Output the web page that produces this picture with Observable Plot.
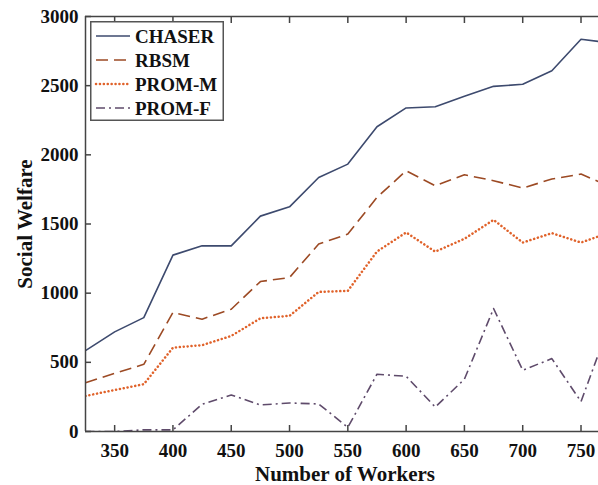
<!DOCTYPE html>
<html>
<head>
<meta charset="utf-8">
<script src="https://cdn.jsdelivr.net/npm/d3@7"></script>
<script src="https://cdn.jsdelivr.net/npm/@observablehq/plot@0.6"></script>
<style>
  html, body { margin: 0; padding: 0; background: #fff; }
  #chart { position: relative; width: 598px; height: 485px; }
  #legend { position: absolute; left: 90px; top: 21px; }
</style>
</head>
<body>
<div id="chart"></div>
<script>
const workers = [325, 350, 375, 400, 425, 450, 475, 500, 525, 550, 575, 600, 625, 650, 675, 700, 725, 750, 775];
const chaser  = [585, 720, 823, 1275, 1342, 1342, 1557, 1624, 1836, 1933, 2203, 2339, 2348, 2423, 2495, 2510, 2608, 2835, 2810];
const rbsm    = [353, 420, 486, 860, 812, 884, 1084, 1113, 1355, 1427, 1692, 1885, 1776, 1856, 1813, 1760, 1825, 1861, 1770];
const promM   = [257, 300, 342, 606, 624, 691, 818, 836, 1009, 1017, 1301, 1439, 1300, 1393, 1530, 1366, 1434, 1366, 1440];
const promF   = [0, 0, 12, 12, 197, 264, 192, 206, 199, 30, 414, 399, 177, 378, 889, 443, 527, 216, 790];

const seriesNames = ["CHASER", "RBSM", "PROM-M", "PROM-F"];
const seriesValues = [chaser, rbsm, promM, promF];
const seriesColors = ["#3d4a6e", "#9c4a24", "#e0622a", "#5f4b6b"];
const seriesDash = [null, "12,6", "0.1,3.8", "9,4,2,4"];
const seriesWidth = [1.6, 1.6, 2.5, 1.6];
const seriesCap = ["butt", "butt", "round", "butt"];

const xTicks = [350, 400, 450, 500, 550, 600, 650, 700, 750];
const yTicks = [0, 500, 1000, 1500, 2000, 2500, 3000];
const xDomain = [325, 765];
const yDomain = [0, 3000];
const xLabel = "Number of Workers";
const yLabel = "Social Welfare";

const tables = seriesValues.map((vals, i) => workers.map((w, j) => ({workers: w, value: vals[j], series: seriesNames[i]})));

const fontFam = "'Liberation Serif', 'Times New Roman', serif";
const axisColor = "#444";
const chart = Plot.plot({
  width: 598,
  height: 485,
  marginLeft: 85,
  marginRight: 0,
  marginTop: 16,
  marginBottom: 54,
  style: {fontFamily: fontFam, fontWeight: "bold", fontSize: "19px", color: "#111", background: "#fff"},
  x: {domain: xDomain},
  y: {domain: yDomain},
  marks: [
    ...tables.map((t, i) => Plot.line(t, {
      x: "workers", y: "value",
      stroke: seriesColors[i],
      strokeWidth: seriesWidth[i],
      strokeDasharray: seriesDash[i],
      strokeLinecap: seriesCap[i],
      clip: true
    })),
    Plot.ruleX([xDomain[0]], {stroke: axisColor, strokeWidth: 1.5}),
    Plot.ruleY([yDomain[0], yDomain[1]], {stroke: axisColor, strokeWidth: 1.5}),
    Plot.axisX({ticks: xTicks, tickSize: -6, tickPadding: 18, stroke: axisColor, strokeWidth: 1.5, label: null}),
    Plot.axisX({anchor: "top", ticks: xTicks, tickSize: -6, tickFormat: () => "", stroke: axisColor, strokeWidth: 1.5, label: null}),
    Plot.axisY({ticks: yTicks, tickSize: -6, tickPadding: 13, tickFormat: "d", stroke: axisColor, strokeWidth: 1.5, label: null}),
    Plot.text([xLabel], {frameAnchor: "bottom", lineAnchor: "middle", textAnchor: "middle", dy: 43, dx: 3, fontSize: 21, fontWeight: "bold", fill: "#111"}),
    Plot.text([yLabel], {frameAnchor: "left", textAnchor: "middle", lineAnchor: "middle", rotate: -90, dx: -60, dy: 0, fontSize: 21, fontWeight: "bold", fill: "#111"})
  ]
});
document.getElementById("chart").appendChild(chart);

// Legend box drawn inside the plot area
const legW = 134, legH = 100;
const leg = d3.select("#chart").append("svg")
  .attr("id", "legend")
  .attr("width", legW)
  .attr("height", legH)
  .style("font-family", fontFam)
  .style("font-weight", "bold")
  .style("font-size", "19px");
leg.append("rect").attr("x", 0.75).attr("y", 0.75).attr("width", legW - 1.5).attr("height", legH - 1.5)
  .attr("fill", "#fff").attr("stroke", "#555").attr("stroke-width", 1.5);
seriesNames.forEach((name, i) => {
  const cy = 15 + i * 24;
  leg.append("line").attr("x1", 6).attr("x2", 40).attr("y1", cy).attr("y2", cy)
    .attr("stroke", seriesColors[i]).attr("stroke-width", seriesWidth[i])
    .attr("stroke-dasharray", seriesDash[i])
    .attr("stroke-linecap", seriesCap[i]);
  leg.append("text").attr("x", 45).attr("y", cy).attr("dy", "0.35em").attr("fill", "#111").text(name);
});
</script>
</body>
</html>
